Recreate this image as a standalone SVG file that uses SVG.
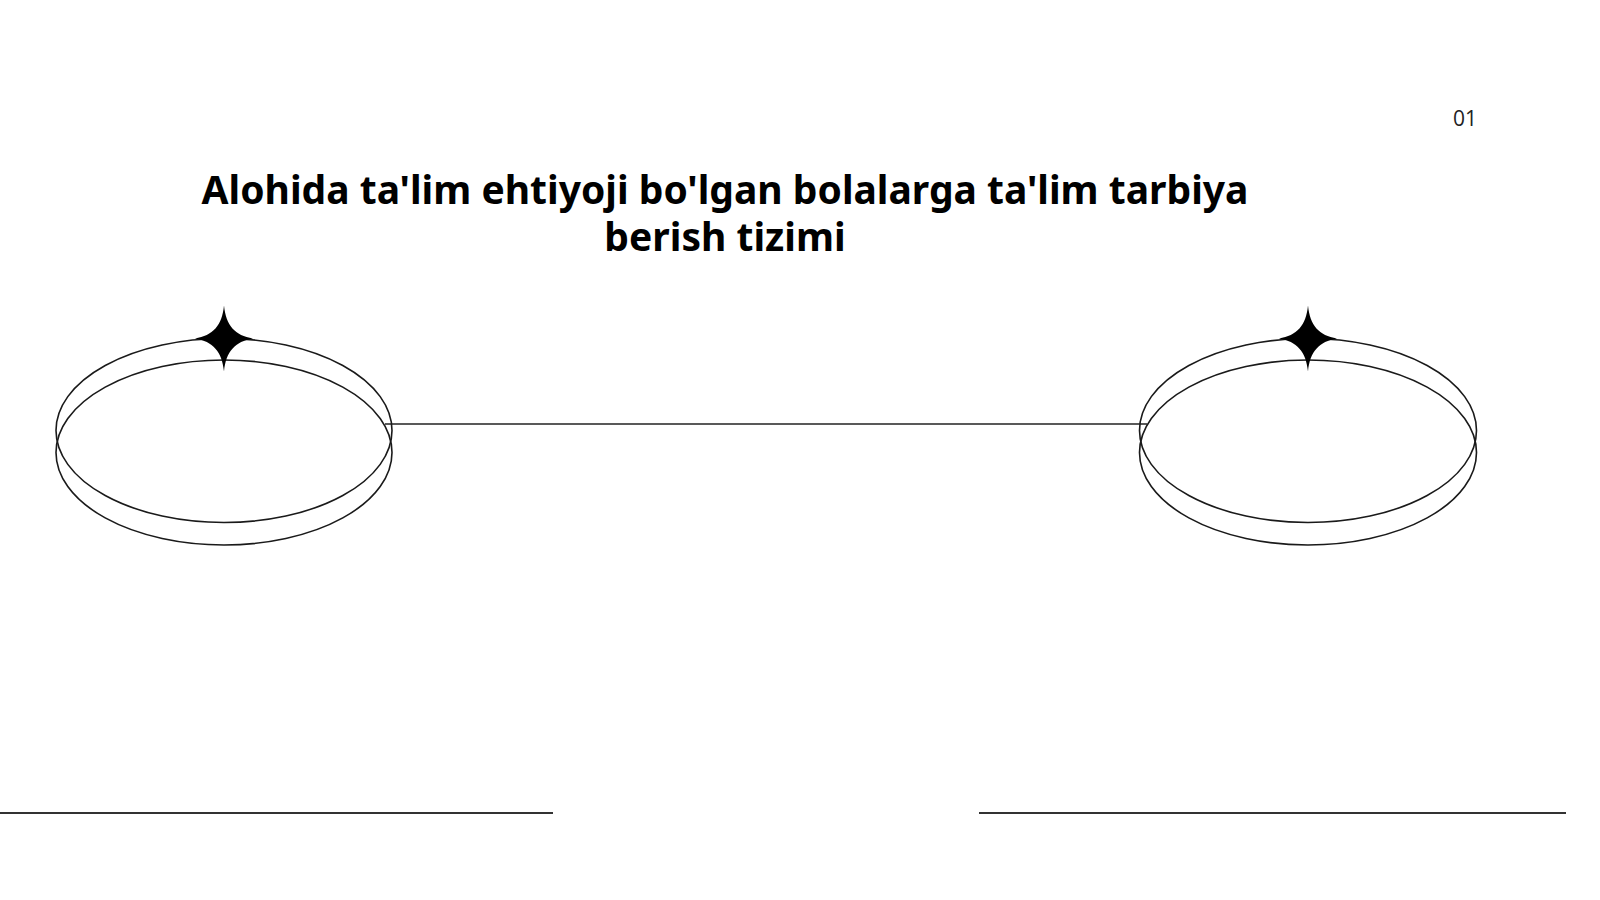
<svg xmlns="http://www.w3.org/2000/svg" width="1600" height="900" viewBox="0 0 1600 900">
<defs>
<style>
.ring{fill:none;stroke:#1a1a1a;stroke-width:1.6}
.star{fill:#000}
.conn{stroke:#222;stroke-width:1.6;fill:none}
.rule{stroke:#333;stroke-width:2;fill:none}
.title{font-family:"Noto Sans","Open Sans","Liberation Sans",sans-serif;font-weight:700;font-size:39px;fill:#000;text-anchor:middle}
.num{font-family:"Open Sans","Noto Sans","Liberation Sans",sans-serif;font-size:21px;fill:#222}
</style>
<path id="star4" d="M0,-33 C2,-13 11,-3 29,0 C11,3 2,13 0,33 C-2,13 -11,3 -29,0 C-11,-3 -2,-13 0,-33 Z"/>
</defs>
<rect width="1600" height="900" fill="#fff"/>
<text class="num" x="1453" y="126">01</text>
<text class="title" x="725" y="204">Alohida ta'lim ehtiyoji bo'lgan bolalarga ta'lim tarbiya</text>
<text class="title" x="725" y="251">berish tizimi</text>
<g id="connectors">
<line class="conn" x1="385" y1="424" x2="1147" y2="424"/>
<line class="rule" x1="0" y1="813" x2="553" y2="813"/>
<line class="rule" x1="979" y1="813" x2="1566" y2="813"/>
</g>
<g id="node-left">
<ellipse class="ring" cx="224" cy="430.5" rx="168" ry="92"/>
<ellipse class="ring" cx="224" cy="452.5" rx="168" ry="92.5"/>
<use href="#star4" class="star" x="224" y="338.5"/>
</g>
<g id="node-right">
<ellipse class="ring" cx="1308" cy="430.5" rx="168.5" ry="92"/>
<ellipse class="ring" cx="1308" cy="452.5" rx="168.5" ry="92.5"/>
<use href="#star4" class="star" x="1308" y="338.5"/>
</g>
</svg>
